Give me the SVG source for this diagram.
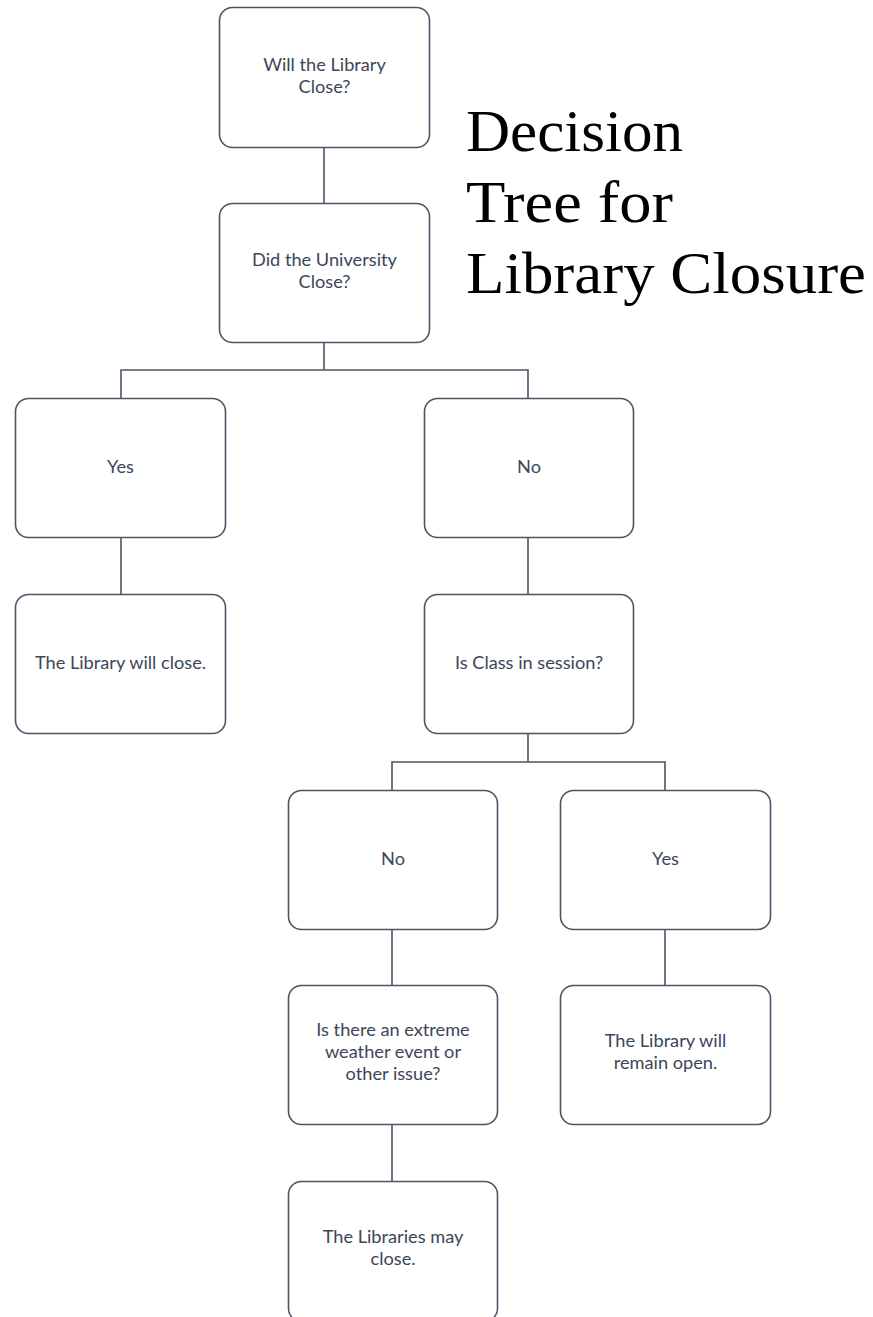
<svg xmlns="http://www.w3.org/2000/svg" width="873" height="1317" viewBox="0 0 873 1317">
<style>
.box{fill:#ffffff;stroke:#4b5566;stroke-width:1.6}
.lbl{font-family:Lato,"Open Sans","Liberation Sans",sans-serif;font-size:18.2px;fill:#3b4658;text-anchor:middle}
.con{fill:none;stroke:#4b5566;stroke-width:1.6}
.title{font-family:"Liberation Serif","DejaVu Serif",serif;font-size:60px;fill:#000}
</style>
<rect width="873" height="1317" fill="#ffffff"/>
<g id="connectors">
<path class="con" d="M324 147V203"/>
<path class="con" d="M324 342V370M121 398V370H528V398"/>
<path class="con" d="M121 538V594"/>
<path class="con" d="M528 538V594"/>
<path class="con" d="M528 733V762M392 790V762H665V790"/>
<path class="con" d="M392 929V985"/>
<path class="con" d="M665 929V985"/>
<path class="con" d="M392 1124V1181"/>
</g>
<g id="n1"><rect class="box" x="219.5" y="7.5" width="210" height="140" rx="13"/><text class="lbl" x="324.5" y="71">Will the Library</text><text class="lbl" x="324.5" y="93">Close?</text></g>
<g id="n2"><rect class="box" x="219.5" y="203.5" width="210" height="139" rx="13"/><text class="lbl" x="324.5" y="266">Did the University</text><text class="lbl" x="324.5" y="288">Close?</text></g>
<g id="n3"><rect class="box" x="15.5" y="398.5" width="210" height="139" rx="13"/><text class="lbl" x="120.5" y="473">Yes</text></g>
<g id="n4"><rect class="box" x="424.5" y="398.5" width="209" height="139" rx="13"/><text class="lbl" x="529" y="473">No</text></g>
<g id="n5"><rect class="box" x="15.5" y="594.5" width="210" height="139" rx="13"/><text class="lbl" x="120.5" y="669">The Library will close.</text></g>
<g id="n6"><rect class="box" x="424.5" y="594.5" width="209" height="139" rx="13"/><text class="lbl" x="529" y="669">Is Class in session?</text></g>
<g id="n7"><rect class="box" x="288.5" y="790.5" width="209" height="139" rx="13"/><text class="lbl" x="393" y="865">No</text></g>
<g id="n8"><rect class="box" x="560.5" y="790.5" width="210" height="139" rx="13"/><text class="lbl" x="665.5" y="865">Yes</text></g>
<g id="n9"><rect class="box" x="288.5" y="985.5" width="209" height="139" rx="13"/><text class="lbl" x="393" y="1036">Is there an extreme</text><text class="lbl" x="393" y="1058">weather event or</text><text class="lbl" x="393" y="1080">other issue?</text></g>
<g id="n10"><rect class="box" x="560.5" y="985.5" width="210" height="139" rx="13"/><text class="lbl" x="665.5" y="1047">The Library will</text><text class="lbl" x="665.5" y="1069">remain open.</text></g>
<g id="n11"><rect class="box" x="288.5" y="1181.5" width="209" height="140" rx="13"/><text class="lbl" x="393" y="1243">The Libraries may</text><text class="lbl" x="393" y="1265">close.</text></g>
<g id="title"><text class="title" x="466" y="151" textLength="217" lengthAdjust="spacingAndGlyphs">Decision</text><text class="title" x="466" y="222" textLength="207" lengthAdjust="spacingAndGlyphs">Tree for</text><text class="title" x="466" y="293" textLength="400" lengthAdjust="spacingAndGlyphs">Library Closure</text></g>
</svg>
